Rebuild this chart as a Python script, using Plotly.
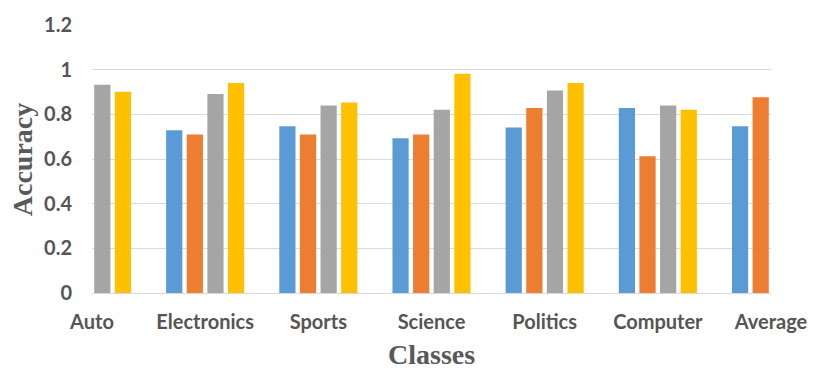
import plotly.graph_objects as go

categories = ["Auto", "Electronics", "Sports", "Science", "Politics", "Computer", "Average"]
series1 = [None, 0.729, 0.747, 0.693, 0.741, 0.828, 0.747]
series2 = [None, 0.710, 0.710, 0.710, 0.828, 0.612, 0.876]
series3 = [0.933, 0.891, 0.839, 0.820, 0.907, 0.839, None]
series4 = [0.901, 0.940, 0.853, 0.982, 0.940, 0.820, None]
y_ticks = [0, 0.2, 0.4, 0.6, 0.8, 1.0, 1.2]
y_ticktext = ["0", "0.2", "0.4", "0.6", "0.8", "1", "1.2"]

colors = ["#5B9BD5", "#ED7D31", "#A5A5A5", "#FFC000"]
names = ["Series 1", "Series 2", "Series 3", "Series 4"]

fig = go.Figure()
for name, vals, c in zip(names, [series1, series2, series3, series4], colors):
    fig.add_trace(go.Bar(x=categories, y=vals, name=name, marker=dict(color=c, line=dict(width=0))))

tick_font = dict(family="Lato", size=20, color="#555555", weight="bold")
title_font = dict(family="Liberation Serif", size=28, color="#595959", weight="bold")

fig.update_layout(
    width=820, height=369,
    margin=dict(l=92, r=37, t=21, b=76),
    paper_bgcolor="white", plot_bgcolor="white",
    barmode="group", bargap=0.271, bargroupgap=0.214,
    showlegend=False,
    xaxis=dict(range=[0, 6], showgrid=False, zeroline=False, showline=False,
               ticks="", tickfont=tick_font, ticklabelstandoff=15),
    yaxis=dict(range=[0, 1.2], tickvals=y_ticks, ticktext=y_ticktext,
               showgrid=True, gridcolor="#D9D9D9", gridwidth=1.3,
               zeroline=True, zerolinecolor="#D9D9D9", zerolinewidth=1.3,
               showline=False, ticks="", tickfont=tick_font, ticklabelstandoff=19),
    annotations=[
        dict(text="Accuracy", xref="paper", yref="paper", x=(21 - 92) / 691, y=0.5,
             xanchor="center", yanchor="middle", textangle=-90, showarrow=False, font=title_font),
        dict(text="Classes", xref="paper", yref="paper", x=0.5, y=(293 - 355) / 272,
             xanchor="center", yanchor="middle", showarrow=False, font=title_font),
    ],
)

fig.write_html("out.html")
